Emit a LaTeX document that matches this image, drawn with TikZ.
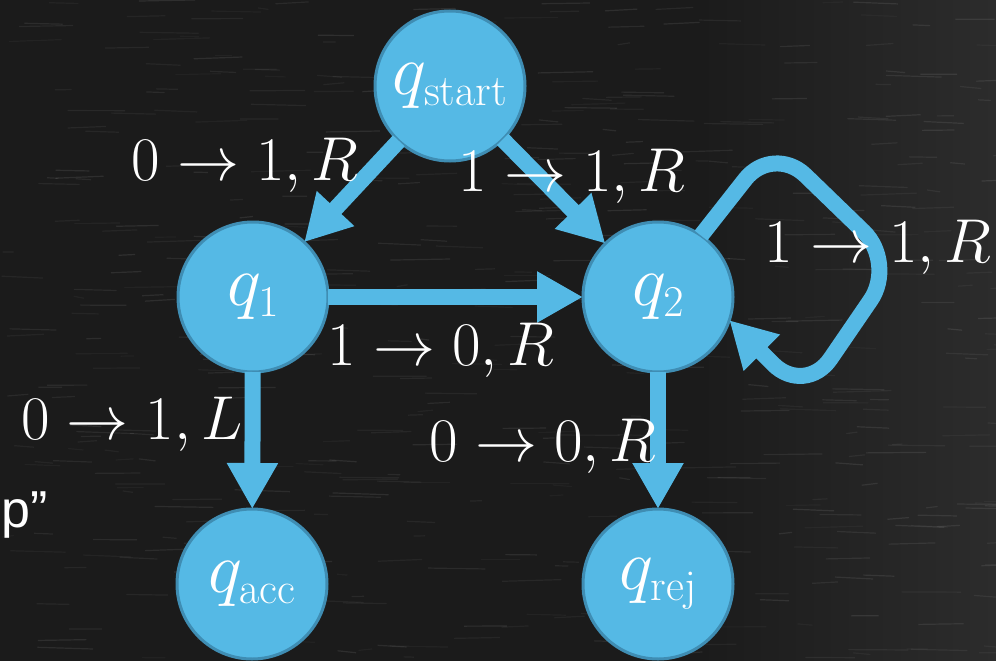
\RequirePackage{fix-cm}
\documentclass[tikz,border=0pt]{standalone}
\usepackage{fontspec}
\newfontfamily\sansf{Liberation Sans}
\usetikzlibrary{arrows.meta}
\DeclareMathSizes{72}{72}{44}{32}
\DeclareMathSizes{62}{62}{40}{30}
\definecolor{nodeblue}{HTML}{55B9E5}
\definecolor{nodeedge}{HTML}{3F8DB3}
\definecolor{bgdark}{HTML}{1B1B1B}
\definecolor{bgright}{HTML}{2C2C2C}
\begin{document}
\begin{tikzpicture}[x=1pt,y=-1pt,
  state/.style={circle, fill=nodeblue, draw=nodeedge, line width=3pt, minimum size=150pt,
    inner sep=0pt, outer sep=0pt, text=white, font=\fontsize{72}{80}\selectfont},
  trans/.style={draw=nodeblue, line width=16pt, -{Triangle[length=46pt,width=48pt]}},
  lbl/.style={text=white, font=\fontsize{62}{70}\selectfont, anchor=base, inner sep=0pt}]
\useasboundingbox (0,0) rectangle (996,661);
\begin{scope}
  \clip (0,0) rectangle (996,661);
  \fill[bgdark] (0,0) rectangle (996,661);
  \shade[left color=bgdark, right color=bgright] (700,0) rectangle (996,661);
  \pgfmathsetseed{42}
  \foreach \i in {1,...,500}{
    \pgfmathsetmacro{\xa}{rnd*996}
    \pgfmathsetmacro{\ya}{rnd*661}
    \pgfmathsetmacro{\ll}{10+rnd*50}
    \pgfmathsetmacro{\op}{0.03+rnd*0.06}
    \draw[white, opacity=\op, line width=1.2pt] (\xa,\ya) -- ++(\ll,rnd*4-2);
  }
\end{scope}

\node[state] (qs) at (450,86) {$q_{\mathrm{start}}$};
\node[state] (q1) at (253,297) {$q_1$};
\node[state] (q2) at (658,297) {$q_2$};
\node[state] (qa) at (252,584) {$q_{\mathrm{acc}}$};
\node[state] (qr) at (658,584) {$q_{\mathrm{rej}}$};

\draw[trans] (qs) -- (q1);
\draw[trans] (qs) -- (q2);
\draw[trans] (q1) -- (q2);
\draw[trans] (q1) -- (qa);
\draw[trans] (q2) -- (qr);
\coordinate (c1) at (773,144);
\coordinate (c2) at (896,263);
\coordinate (c3) at (805,396);
\draw[trans, rounded corners=45pt] (q2.55) -- (c1) -- (c2) -- (c3) -- (q2.-18);

\node[lbl] (l1) at (245,180) {$0\to 1,R$};
\node[lbl] (l2) at (572,191) {$1\to 1,R$};
\node[lbl] (l3) at (441,365) {$1\to 0,R$};
\node[lbl] (l4) at (132,439) {$0\to 1,L$};
\node[lbl] (l5) at (543,461) {$0\to 0,R$};
\node[lbl] (l6) at (878,262) {$1\to 1,R$};
\node[text=white, font=\sansf\fontsize{52}{56}\selectfont, anchor=base west, inner sep=0pt] (pq) at (1,527) {p”};
\end{tikzpicture}
\end{document}
